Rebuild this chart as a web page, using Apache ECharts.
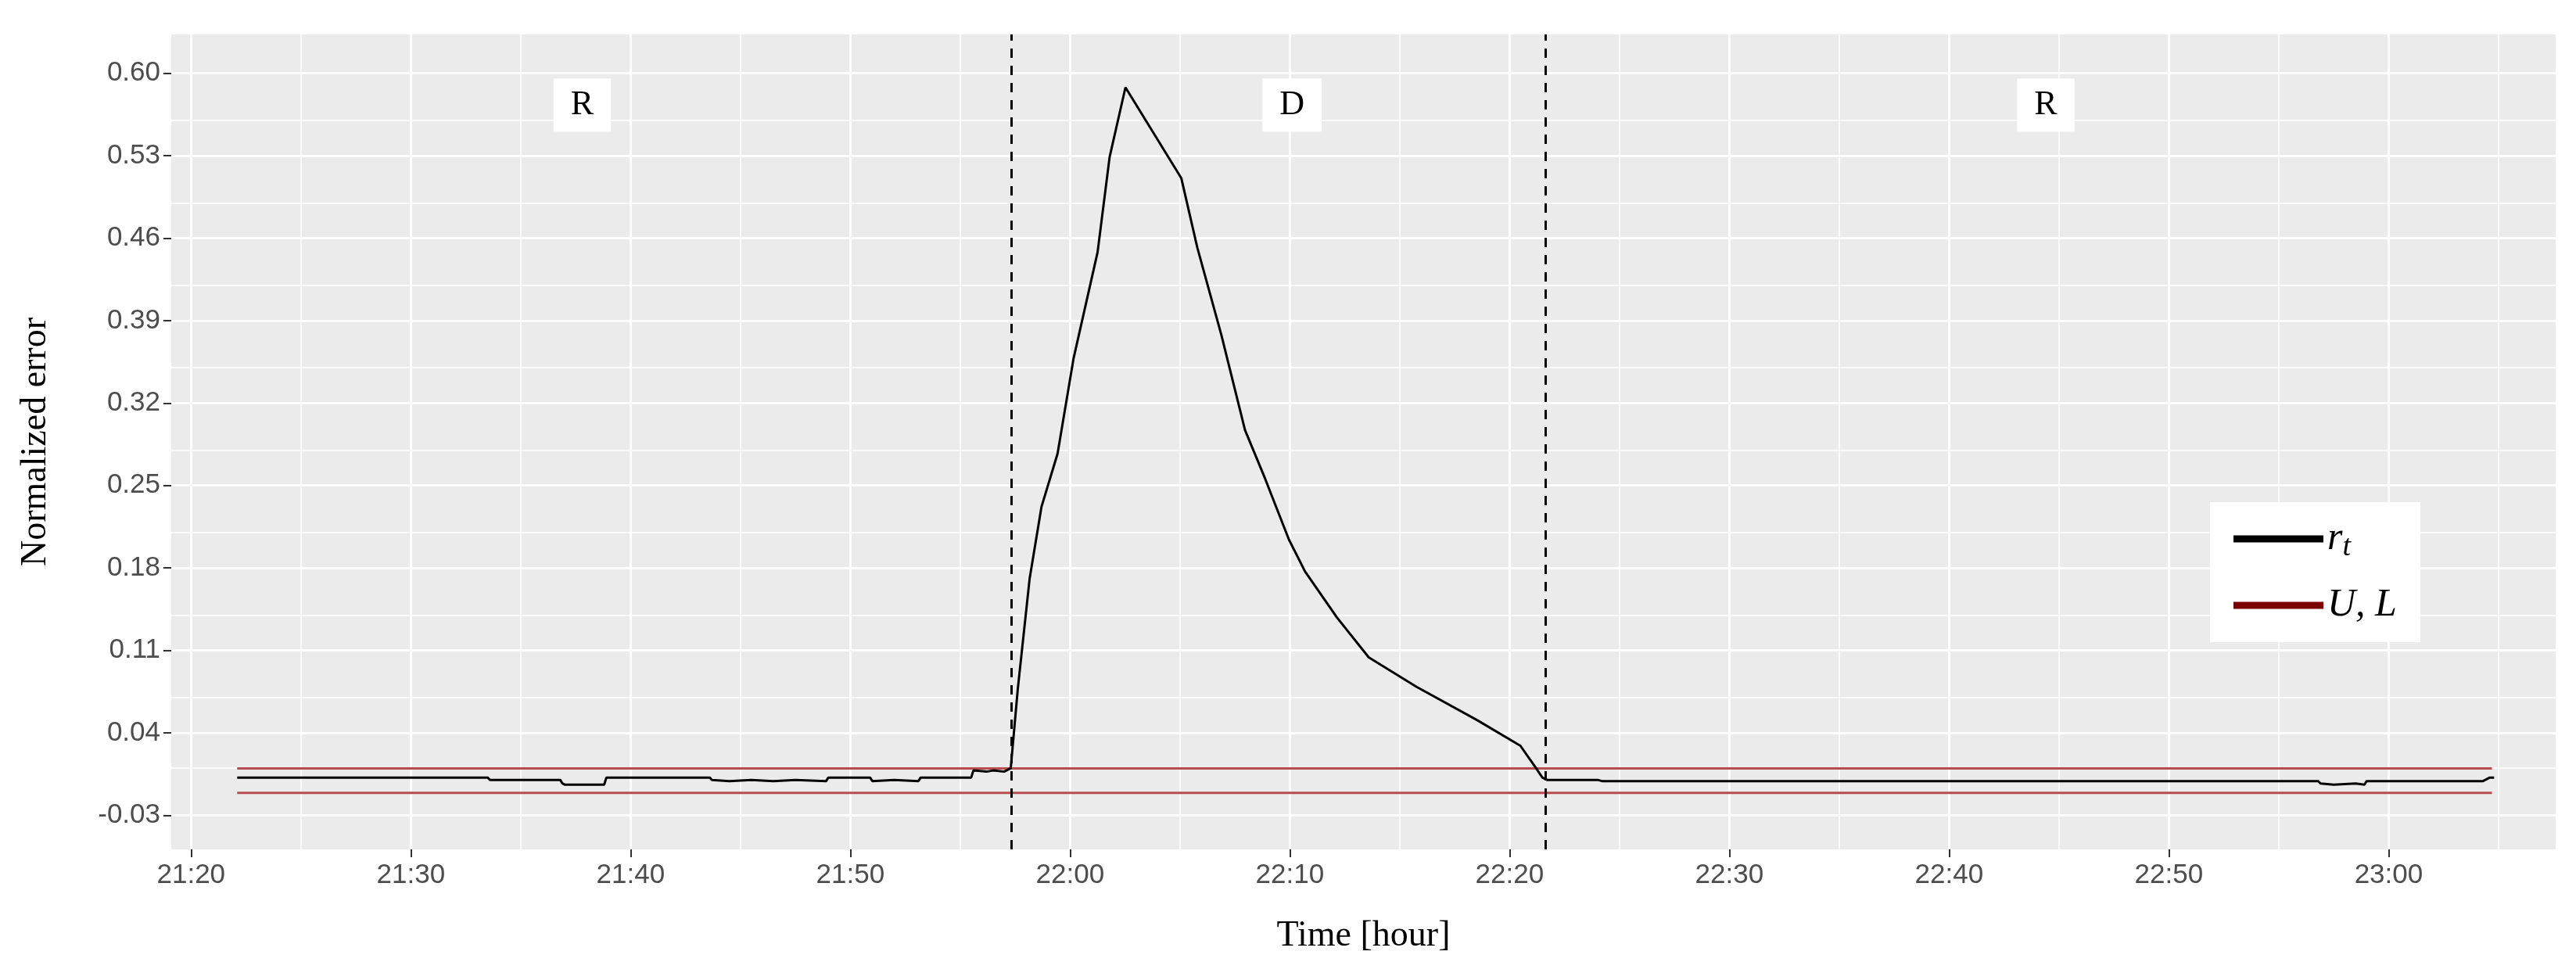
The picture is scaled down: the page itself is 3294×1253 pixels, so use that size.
<!DOCTYPE html>
<html><head><meta charset="utf-8">
<script src="https://cdn.jsdelivr.net/npm/echarts@6/dist/echarts.min.js"></script>
<style>html,body{margin:0;padding:0;background:#fff}#c{width:3294px;height:1253px}</style>
</head><body><div id="c"></div>
<script>
// time in minutes after 21:00
const rtTime = [22.1,33.5,33.6,36.8,36.9,37.0,38.8,38.9,43.6,43.7,44.5,45.5,46.5,47.5,48.9,49.0,50.9,51.0,52.0,53.1,53.2,55.5,55.6,56.2,56.5,57.0,57.3,
 57.35,57.62,58.16,58.70,59.43,60.16,61.25,61.80,62.52,65.06,65.79,66.88,67.96,68.87,69.96,70.69,72.14,73.59,75.77,78.50,80.49,81.13,81.49,81.7,
 84.0,84.2,116.8,116.9,117.5,118.5,118.9,119.0,124.3,124.6,124.8];
const rtValue = [0.002,0.002,0.000,0.000,-0.003,-0.004,-0.004,0.002,0.002,0.000,-0.001,0.000,-0.001,0.000,-0.001,0.002,0.002,-0.001,0.000,-0.001,0.002,0.002,0.008,0.007,0.008,0.007,0.010,
 0.010,0.077,0.171,0.232,0.277,0.358,0.448,0.529,0.588,0.511,0.452,0.378,0.297,0.256,0.204,0.177,0.138,0.104,0.079,0.051,0.029,0.012,0.002,0.000,
 0.000,-0.001,-0.001,-0.003,-0.004,-0.003,-0.004,-0.001,-0.001,0.002,0.002];
const limitStart = 22.1, limitEnd = 124.7;
const upperLimit = 0.0097, lowerLimit = -0.011;
const phaseBounds = [57.33, 81.64];
const phaseLabels = [['R',37.8],['D',70.1],['R',104.4]];
const xTicks = [20,30,40,50,60,70,80,90,100,110,120];
const xMinor = [25,35,45,55,65,75,85,95,105,115,125];
const yTicks = [-0.03,0.04,0.11,0.18,0.25,0.32,0.39,0.46,0.53,0.60];
const yMinor = [0.005,0.075,0.145,0.215,0.285,0.355,0.425,0.495,0.565];

function fmtT(m){const h=21+Math.floor(m/60), mm=Math.round(m%60);return h+':'+(mm<10?'0':'')+mm;}
const rt = rtTime.map((t,i)=>[t,rtValue[i]]);
const ul = [[limitStart,upperLimit],[limitEnd,upperLimit],[limitEnd,'-'],[limitStart,lowerLimit],[limitEnd,lowerLimit]];
const white = {color:'#fff',type:'solid'};
const gridLines = [].concat(
  xTicks.map(v=>({xAxis:v,lineStyle:{...white,width:3}})),
  xMinor.map(v=>({xAxis:v,lineStyle:{...white,width:1.5}})),
  yTicks.map(v=>({yAxis:v,lineStyle:{...white,width:3}})),
  yMinor.map(v=>({yAxis:v,lineStyle:{...white,width:1.5}})));
const chart = echarts.init(document.getElementById('c'));
chart.setOption({
  animation:false,
  grid:{left:219,right:26,top:44,bottom:167,show:true,backgroundColor:'#EBEBEB',borderWidth:0},
  xAxis:{type:'value',min:19.1,max:127.6,name:'Time [hour]',nameLocation:'middle',nameGap:88,
    nameTextStyle:{fontFamily:'Liberation Serif',fontSize:46,color:'#000'},
    axisLine:{show:false,onZero:false},splitLine:{show:false},
    axisTick:{show:true,length:10,lineStyle:{color:'#333',width:2},customValues:xTicks},
    axisLabel:{customValues:xTicks,formatter:fmtT,fontFamily:'Liberation Sans',fontSize:35,color:'#4D4D4D',margin:16}},
  yAxis:{type:'value',min:-0.059,max:0.633,name:'Normalized error',nameLocation:'middle',nameGap:150,
    nameTextStyle:{fontFamily:'Liberation Serif',fontSize:46,color:'#000'},
    axisLine:{show:false,onZero:false},splitLine:{show:false},
    axisTick:{show:true,length:10,lineStyle:{color:'#333',width:2},customValues:yTicks},
    axisLabel:{customValues:yTicks,formatter:v=>v.toFixed(2),fontFamily:'Liberation Sans',fontSize:35,color:'#4D4D4D',margin:14}},
  legend:{left:2826,top:642,orient:'vertical',backgroundColor:'#fff',padding:[22,30,22,30],itemGap:30,
    itemWidth:115,itemHeight:9,icon:'rect',
    data:[{name:'rt',itemStyle:{color:'#000'}},{name:'UL',itemStyle:{color:'#7B0000'}}],
    formatter:n=>n==='rt'?'{i|r}{s|t}':'{i|U, L}',
    textStyle:{rich:{i:{fontFamily:'Liberation Serif',fontStyle:'italic',fontSize:50,color:'#000'},
      s:{fontFamily:'Liberation Serif',fontStyle:'italic',fontSize:38,color:'#000',verticalAlign:'bottom',padding:[22,0,0,0]}}}},
  series:[
    {type:'line',name:'grid',data:[],silent:true,z:0,markLine:{silent:true,symbol:'none',label:{show:false},data:gridLines,z:0}},
    {type:'line',name:'UL',data:ul,showSymbol:false,lineStyle:{color:'#B84C50',width:3},itemStyle:{color:'#7B0000'},z:2},
    {type:'line',name:'rt',data:rt,showSymbol:false,lineStyle:{color:'#000',width:3},itemStyle:{color:'#000'},z:3,
      markLine:{silent:true,symbol:'none',label:{show:false},lineStyle:{color:'#000',type:[12,10],width:3},
        data:phaseBounds.map(v=>({xAxis:v}))},
      markPoint:{silent:true,symbol:'rect',symbolSize:1,itemStyle:{color:'transparent'},
        data:phaseLabels.map(p=>({coord:[p[1],0.573],value:p[0]})),
        label:{show:true,position:'inside',formatter:p=>p.value,backgroundColor:'#fff',padding:[14,22,10,22],
          fontFamily:'Liberation Serif',fontSize:44,color:'#000'}}}
  ]
});
</script></body></html>
